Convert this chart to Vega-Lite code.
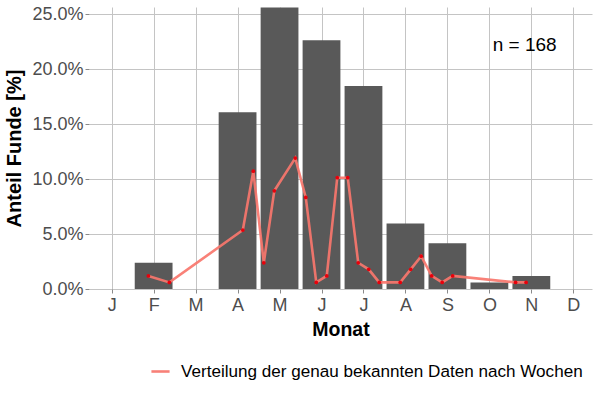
{
  "$schema": "https://vega.github.io/schema/vega-lite/v6.json",
  "width": 503,
  "height": 282,
  "autosize": {"type": "none"},
  "padding": {"left": 89, "top": 7, "right": 8, "bottom": 111},
  "background": "white",
  "config": {
    "view": {"stroke": null},
    "font": "Liberation Sans",
    "axis": {
      "gridColor": "#c4c4c4",
      "gridWidth": 1,
      "domain": false,
      "tickColor": "#8a8a8a",
      "tickSize": 4,
      "labelFont": "Liberation Sans",
      "labelFontSize": 18,
      "labelColor": "#4d4d4d",
      "titleFont": "Liberation Sans",
      "titleFontSize": 19.5,
      "titleFontWeight": "bold",
      "titleColor": "#000000"
    }
  },
  "datasets": {
    "months": [
      {"month": 2, "share": 0.0238},
      {"month": 4, "share": 0.1607},
      {"month": 5, "share": 0.2560},
      {"month": 6, "share": 0.2262},
      {"month": 7, "share": 0.1845},
      {"month": 8, "share": 0.0595},
      {"month": 9, "share": 0.0417},
      {"month": 10, "share": 0.0060},
      {"month": 11, "share": 0.0119}
    ],
    "weeks": [
      {"pos": 1.875, "share": 0.0119},
      {"pos": 2.375, "share": 0.0060},
      {"pos": 4.125, "share": 0.0536},
      {"pos": 4.375, "share": 0.1071},
      {"pos": 4.625, "share": 0.0238},
      {"pos": 4.875, "share": 0.0893},
      {"pos": 5.375, "share": 0.1190},
      {"pos": 5.625, "share": 0.0833},
      {"pos": 5.875, "share": 0.0060},
      {"pos": 6.125, "share": 0.0119},
      {"pos": 6.375, "share": 0.1012},
      {"pos": 6.625, "share": 0.1012},
      {"pos": 6.875, "share": 0.0238},
      {"pos": 7.125, "share": 0.0179},
      {"pos": 7.375, "share": 0.0060},
      {"pos": 7.875, "share": 0.0060},
      {"pos": 8.125, "share": 0.0179},
      {"pos": 8.375, "share": 0.0298},
      {"pos": 8.625, "share": 0.0119},
      {"pos": 8.875, "share": 0.0060},
      {"pos": 9.125, "share": 0.0119},
      {"pos": 10.625, "share": 0.0060},
      {"pos": 10.875, "share": 0.0060}
    ],
    "note": [
      {"pos": 10.84, "share": 0.2215, "label": "n = 168"}
    ]
  },
  "layer": [
    {
      "data": {"name": "months"},
      "mark": {"type": "bar", "color": "#595959", "width": 37.8},
      "encoding": {
        "x": {
          "field": "month", "type": "quantitative",
          "scale": {"domain": [0.46, 12.445], "nice": false, "zero": false, "padding": 0},
          "axis": {
            "values": [1,2,3,4,5,6,7,8,9,10,11,12],
            "labelExpr": "['J','F','M','A','M','J','J','A','S','O','N','D'][datum.value-1]",
            "title": "Monat",
            "labelPadding": 3,
            "titlePadding": 6,
            "labelFlush": false
          }
        },
        "y": {
          "field": "share", "type": "quantitative",
          "scale": {"domain": [0, 0.2564], "nice": false, "padding": 0},
          "axis": {
            "values": [0, 0.05, 0.1, 0.15, 0.2, 0.25],
            "format": ".1%",
            "title": "Anteil Funde [%]",
            "titleFontSize": 20,
            "labelPadding": 2,
            "titlePadding": 7,
            "labelFlush": false
          }
        }
      }
    },
    {
      "data": {"name": "weeks"},
      "mark": {"type": "line", "strokeWidth": 2.6, "opacity": 0.92},
      "encoding": {
        "x": {"field": "pos", "type": "quantitative"},
        "y": {"field": "share", "type": "quantitative"},
        "color": {
          "datum": "Verteilung der genau bekannten Daten nach Wochen",
          "scale": {"range": ["#F8766D"]},
          "legend": {
            "title": null,
            "orient": "none",
            "legendX": 61,
            "legendY": 354,
            "symbolType": "stroke",
            "symbolSize": 330,
            "symbolStrokeWidth": 2.6,
            "labelFontSize": 17.1,
            "labelColor": "#000000",
            "labelFont": "Liberation Sans",
            "labelOffset": 10,
            "labelLimit": 0
          }
        }
      }
    },
    {
      "data": {"name": "weeks"},
      "mark": {"type": "point", "filled": true, "color": "#e8000b", "size": 14, "opacity": 1},
      "encoding": {
        "x": {"field": "pos", "type": "quantitative"},
        "y": {"field": "share", "type": "quantitative"}
      }
    },
    {
      "data": {"name": "note"},
      "mark": {"type": "text", "fontSize": 19, "color": "#000000", "font": "Liberation Sans"},
      "encoding": {
        "x": {"field": "pos", "type": "quantitative"},
        "y": {"field": "share", "type": "quantitative"},
        "text": {"field": "label"}
      }
    }
  ]
}
